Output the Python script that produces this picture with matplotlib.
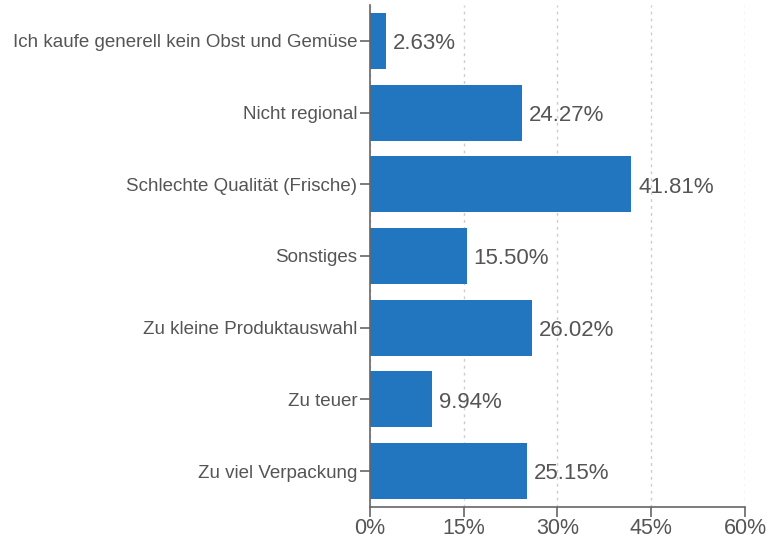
import matplotlib
matplotlib.use("Agg")
import matplotlib.pyplot as plt
from matplotlib.ticker import FuncFormatter

categories = [
    "Ich kaufe generell kein Obst und Gemüse",
    "Nicht regional",
    "Schlechte Qualität (Frische)",
    "Sonstiges",
    "Zu kleine Produktauswahl",
    "Zu teuer",
    "Zu viel Verpackung",
]
values = [2.63, 24.27, 41.81, 15.50, 26.02, 9.94, 25.15]
xticks = [0, 15, 30, 45, 60]

BAR = "#2176bf"
TXT = "#555555"

plt.rcParams["font.family"] = ["Liberation Sans", "DejaVu Sans"]

fig = plt.figure(figsize=(7.69, 5.39), dpi=100)
ax = fig.add_axes([0.4808, 0.0594, 0.488, 0.9313])

ypos = list(range(len(categories)))
ax.barh(ypos, values, height=0.78, color=BAR, zorder=2)

# value labels just right of each bar
for y, v in zip(ypos, values):
    ax.text(v + 1.1, y + 0.04, f"{v:.2f}%", va="center", ha="left",
            fontsize=16, color=TXT, zorder=3)

ax.set_xlim(0, 60)
ax.set_ylim(6.5, -0.5)
ax.set_yticks(ypos)
ax.set_yticklabels(categories)
ax.set_xticks(xticks)
ax.xaxis.set_major_formatter(FuncFormatter(lambda x, _: f"{x:.0f}%"))

ax.grid(axis="x", color="#cccccc", linestyle=(0, (2, 3)), linewidth=1, zorder=0)
for s in ("top", "right"):
    ax.spines[s].set_visible(False)
for s in ("left", "bottom"):
    ax.spines[s].set_color("#666666")
    ax.spines[s].set_linewidth(1.2)

ax.tick_params(axis="y", length=7, width=1.2, color="#666666",
               labelsize=13.5, labelcolor=TXT, pad=2)
ax.tick_params(axis="x", length=7, width=1.2, color="#666666",
               labelsize=15.5, labelcolor=TXT, pad=1)

fig.savefig("out.png", dpi=100, facecolor="white")
